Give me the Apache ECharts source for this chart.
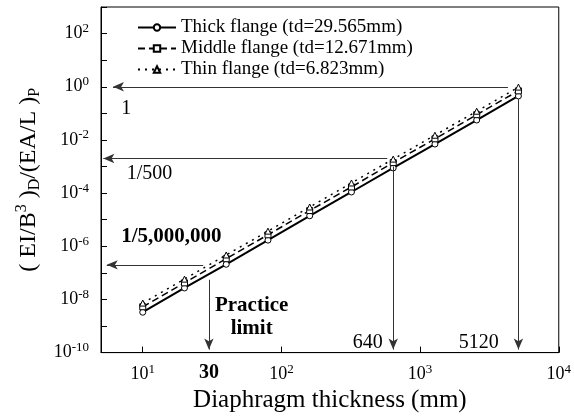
<!DOCTYPE html>
<html lang="en">
<head>
    <meta charset="UTF-8">
    <title>Diaphragm thickness</title>
    <script type="text/javascript" src="https://cdn.jsdelivr.net/npm/echarts@6/dist/echarts.min.js"></script>
    <style>
        body { margin: 0; background: #fff; }
    </style>
</head>
<body>
<div id="main" style="width: 574px;height:418px;"></div>
<script>
    // diaphragm thickness (mm)
    var thickness = [10, 20, 40, 80, 160, 320, 640, 1280, 2560, 5120];
    var thickFlange = [3.3e-9, 2.7e-8, 2.1e-7, 1.7e-6, 1.4e-5, 1.1e-4, 8.8e-4, 7.0e-3, 5.6e-2, 0.45];
    var middleFlange = [5.3e-9, 4.2e-8, 3.4e-7, 2.7e-6, 2.2e-5, 1.7e-4, 1.4e-3, 1.1e-2, 8.9e-2, 0.70];
    var thinFlange = [7.3e-9, 5.8e-8, 4.7e-7, 3.7e-6, 3.0e-5, 2.4e-4, 1.9e-3, 1.5e-2, 0.12, 0.97];
    var seriesNames = ['Thick flange (td=29.565mm)', 'Middle flange (td=12.671mm)', 'Thin flange (td=6.823mm)'];

    // arrows: [x1, y1, x2, y2] in data units, head at the second point
    var arrows = [
        [4300, 1, 6.1, 1],
        [580, 2e-3, 5.2, 2e-3],
        [27.3, 2e-7, 5.5, 2e-7],
        [30, 5.5e-8, 30, 1.3e-10],
        [640, 1.0e-3, 640, 1.3e-10],
        [5120, 0.35, 5120, 1.3e-10]
    ];
    // notes: [x, y, text, bold]
    var notes = [
        [7.6, 0.15, '1', false],
        [11.2, 5.3e-4, '1/500', false],
        [16.1, 2.3e-6, '1/5,000,000', true],
        [61, 2.2e-9, 'Practice\nlimit', true],
        [420, 2.4e-10, '640', false],
        [2650, 2.4e-10, '5120', false]
    ];

    var font = 'Liberation Serif';

    function pow10(v) {
        var e = Math.round(Math.log10(v));
        if (Math.abs(Math.log10(v) - e) > 1e-6) return '';
        return '{b|10}{s|' + e + '}';
    }

    var supRich = {
        b: {fontSize: 18, fontFamily: font, color: '#000'},
        s: {fontSize: 13, fontFamily: font, color: '#000', padding: [0, 0, 10, 0]}
    };

    function mkSeries(name, data, symbol, lineType, width) {
        return {
            name: name,
            type: 'line',
            data: thickness.map(function (t, i) { return [t, data[i]]; }),
            symbol: symbol,
            symbolSize: 6,
            lineStyle: {color: '#000', width: width, type: lineType},
            itemStyle: {color: '#fff', borderColor: '#000', borderWidth: 1},
            z: 3
        };
    }

    var myChart = echarts.init(document.getElementById('main'));
    var series = [
        mkSeries(seriesNames[0], thickFlange, 'circle', 'solid', 2),
        mkSeries(seriesNames[1], middleFlange, 'rect', [7, 4], 1.5),
        mkSeries(seriesNames[2], thinFlange, 'triangle', [2, 5], 1.5)
    ];
    series.push({
        type: 'line',
        data: [],
        silent: true,
        markLine: {
            silent: true,
            symbol: ['none', 'arrow'],
            symbolSize: [7, 11],
            label: {show: false},
            lineStyle: {color: '#333', width: 1, type: 'solid'},
            data: arrows.map(function (a) {
                return [{coord: [a[0], a[1]]}, {coord: [a[2], a[3]]}];
            })
        },
        markPoint: {
            silent: true,
            symbolSize: 0,
            data: notes.map(function (n) {
                return {
                    coord: [n[0], n[1]],
                    label: {
                        show: true,
                        formatter: n[2],
                        color: '#000',
                        fontFamily: font,
                        fontSize: n[3] ? 21 : 20,
                        fontWeight: n[3] ? 'bold' : 'normal',
                        lineHeight: 23,
                        align: 'center',
                        verticalAlign: 'middle'
                    }
                };
            }).concat([{
                coord: [30, 1e-10],
                label: {
                    show: true, formatter: '30', color: '#000', fontFamily: font,
                    fontSize: 20, fontWeight: 'bold', offset: [0, 20]
                }
            }])
        }
    });

    var option = {
        animation: false,
        textStyle: {fontFamily: font, color: '#000'},
        grid: {left: 101, right: 11, top: 7, bottom: 65, show: true, borderColor: '#000', borderWidth: 1},
        legend: {
            orient: 'vertical',
            left: 132,
            top: 13,
            itemGap: 2,
            itemWidth: 38,
            itemHeight: 8,
            data: seriesNames,
            textStyle: {fontFamily: font, fontSize: 19, color: '#000'}
        },
        xAxis: {
            type: 'log',
            logBase: 10,
            min: 5,
            max: 10000,
            name: 'Diaphragm thickness (mm)',
            nameLocation: 'middle',
            nameGap: 32,
            nameTextStyle: {fontFamily: font, fontSize: 25, color: '#000'},
            axisLine: {lineStyle: {color: '#000'}},
            axisTick: {inside: true, length: 6, lineStyle: {color: '#000'}},
            axisLabel: {formatter: pow10, rich: supRich, margin: 10},
            splitLine: {show: false}
        },
        yAxis: {
            type: 'log',
            logBase: 10,
            min: 1e-10,
            max: 1e3,
            interval: 1,
            name: '( EI/B{sup|3} ){sub|D}/(EA/L ){sub|P}',
            nameLocation: 'middle',
            nameRotate: 90,
            nameGap: 46,
            nameTextStyle: {
                fontFamily: font, fontSize: 24, color: '#000',
                rich: {
                    sup: {fontFamily: font, fontSize: 16, color: '#000', padding: [0, 0, 13, 0]},
                    sub: {fontFamily: font, fontSize: 16, color: '#000', padding: [13, 0, 0, 0]}
                }
            },
            axisLine: {lineStyle: {color: '#000'}},
            axisTick: {inside: true, length: 6, lineStyle: {color: '#000'}},
            axisLabel: {
                formatter: function (v) {
                    var e = Math.round(Math.log10(v));
                    if (e % 2 !== 0) return '';
                    return '{b|10}{s|' + e + '}';
                },
                rich: supRich,
                margin: 12
            },
            splitLine: {show: false}
        },
        series: series
    };
    myChart.setOption(option);
</script>
</body>
</html>
